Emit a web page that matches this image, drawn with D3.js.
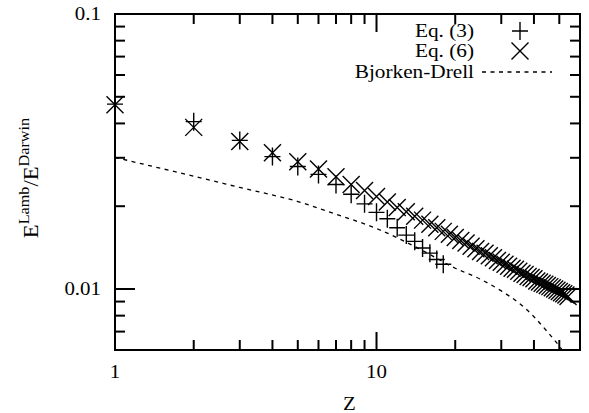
<!DOCTYPE html>
<html>
<head>
<meta charset="utf-8">
<script src="https://cdn.jsdelivr.net/npm/d3@7"></script>
<style>
  body { margin: 0; background: #fff; }
  svg text { font-family: "Liberation Serif", "DejaVu Serif", Times, serif; fill: #000; }
</style>
</head>
<body>
<div id="chart"></div>
<script>
const width = 589;
const height = 413;

// Eq. (3) points
const z3 = [1, 2, 3, 4, 5, 6, 7, 8, 9, 10, 11, 12, 13, 14, 15, 16, 17, 18];
const eq3 = [0.0470, 0.0406, 0.0347, 0.0303, 0.0279, 0.0261, 0.0240, 0.0221, 0.0204, 0.0190,
    0.0180, 0.0167, 0.0157, 0.0149, 0.0141, 0.0135, 0.0128, 0.0123];

// Eq. (6) points
const z6 = [1, 2, 3, 4, 5, 6, 7, 8, 9, 10, 11, 12, 13, 14, 15, 16, 17, 18, 19, 20,
    21, 22, 23, 24, 25, 26, 27, 28, 29, 30, 31, 32, 33, 34, 35, 36, 37, 38, 39, 40,
    41, 42, 43, 44, 45, 46, 47, 48, 49, 50, 51, 52, 53, 54];
const eq6 = [0.0468, 0.0387, 0.0344, 0.0313, 0.0290, 0.0273, 0.0256, 0.0240, 0.0228, 0.0217,
    0.0207, 0.0198, 0.0191, 0.0184, 0.0178, 0.0172, 0.0167, 0.0162, 0.0158, 0.0154,
    0.0150, 0.0147, 0.0143, 0.0140, 0.0137, 0.0135, 0.0132, 0.0130, 0.0127, 0.0125,
    0.0123, 0.0121, 0.0119, 0.0118, 0.0116, 0.0114, 0.0113, 0.0111, 0.0110, 0.0109,
    0.0107, 0.0106, 0.0105, 0.0104, 0.0103, 0.0102, 0.0101, 0.0100, 0.0099, 0.0098,
    0.0097, 0.0096, 0.0095, 0.0094];

// Bjorken-Drell curve
const bdZ = [1, 2, 3, 5, 7, 10, 15, 20, 25, 30, 35, 40, 45, 50, 52];
const bdVal = [0.0301, 0.0257, 0.0234, 0.0208, 0.0187, 0.0166, 0.0138, 0.0119, 0.01085,
    0.00984, 0.0089, 0.00793, 0.00699, 0.0062, 0.0059];

const xMajor = [1, 10];
const xMinor = [2, 3, 4, 5, 6, 7, 8, 9, 20, 30, 40, 50];
const yMajor = [0.01, 0.1];
const yMinor = [0.007, 0.008, 0.009, 0.02, 0.03, 0.04, 0.05, 0.06, 0.07, 0.08, 0.09];

const legendNames = ["Eq. (3)", "Eq. (6)", "Bjorken-Drell"];

const x = d3.scaleLog().domain([1, 60]).range([115, 580]);
const y = d3.scaleLog().domain([0.006, 0.1]).range([350, 14]);

const svg = d3.select("#chart").append("svg")
    .attr("width", width)
    .attr("height", height)
    .attr("font-family", "'Liberation Serif', 'DejaVu Serif', serif");

svg.append("defs").append("clipPath").attr("id", "plot")
    .append("rect")
    .attr("x", x.range()[0]).attr("y", y.range()[1])
    .attr("width", x.range()[1] - x.range()[0])
    .attr("height", y.range()[0] - y.range()[1]);

const plusPath = "M-8,0H8M0,-9V9";
const crossPath = "M-8.5,-8.5L8.5,8.5M-8.5,8.5L8.5,-8.5";

// ticks (inward, on all four sides)
const ticks = svg.append("g").attr("stroke", "#000").attr("stroke-width", 2);
const [x0, x1] = x.range();
const [y1, y0] = [y.range()[0], y.range()[1]];
xMajor.concat(xMinor).forEach(v => {
    const len = xMajor.includes(v) ? 18 : 10;
    ticks.append("line").attr("x1", x(v)).attr("x2", x(v)).attr("y1", y1).attr("y2", y1 - len);
    ticks.append("line").attr("x1", x(v)).attr("x2", x(v)).attr("y1", y0).attr("y2", y0 + len);
});
yMajor.concat(yMinor).forEach(v => {
    const len = yMajor.includes(v) ? 20 : 10;
    ticks.append("line").attr("y1", y(v)).attr("y2", y(v)).attr("x1", x0).attr("x2", x0 + len);
    ticks.append("line").attr("y1", y(v)).attr("y2", y(v)).attr("x1", x1).attr("x2", x1 - len);
});

svg.append("rect")
    .attr("x", x0).attr("y", y0)
    .attr("width", x1 - x0).attr("height", y1 - y0)
    .attr("fill", "none").attr("stroke", "#000").attr("stroke-width", 2);

// text helper: stretched a little along the writing direction like the original
const label = (tx, ty, str, anchor, size, sx) => svg.append("g")
    .attr("transform", `translate(${tx},${ty}) scale(${sx},1)`)
    .append("text")
    .attr("text-anchor", anchor)
    .style("font-size", size + "px")
    .text(str);

xMajor.forEach(v => label(x(v), 378, d3.format("d")(v), "middle", 19, 1.1));
yMajor.forEach(v => label(101, y(v) + 6, String(v), "end", 19, 1.1));

label((x0 + x1) / 2 + 2, 410, "Z", "middle", 19, 1.1);

// y axis label
const yl = svg.append("g")
    .attr("transform", "translate(38,178) rotate(-90) scale(1.08,1)")
    .append("text")
    .attr("text-anchor", "middle")
    .style("font-size", "21px");
yl.append("tspan").text("E");
yl.append("tspan").attr("dy", -9).style("font-size", "15px").text("Lamb");
yl.append("tspan").attr("dy", 9).text("/E");
yl.append("tspan").attr("dy", -9).style("font-size", "15px").text("Darwin");

// Bjorken-Drell dashed curve
const line = d3.line()
    .x((d, i) => x(bdZ[i]))
    .y(d => y(d))
    .curve(d3.curveMonotoneX);

svg.append("path")
    .attr("clip-path", "url(#plot)")
    .attr("d", line(bdVal))
    .attr("fill", "none")
    .attr("stroke", "#000")
    .attr("stroke-width", 1.3)
    .attr("stroke-dasharray", "4,4.5");

// markers
svg.append("g").selectAll("path")
    .data(eq3)
    .join("path")
    .attr("transform", (d, i) => `translate(${x(z3[i])},${y(d)})`)
    .attr("d", plusPath)
    .attr("fill", "none").attr("stroke", "#000").attr("stroke-width", 1.4);

svg.append("g").selectAll("path")
    .data(eq6)
    .join("path")
    .attr("transform", (d, i) => `translate(${x(z6[i])},${y(d)})`)
    .attr("d", crossPath)
    .attr("fill", "none").attr("stroke", "#000").attr("stroke-width", 1.4);

// legend
const legendY = [31, 51, 72];
legendNames.forEach((name, i) => label(474, legendY[i] + 6, name, "end", 19, 1.12));
svg.append("path")
    .attr("transform", `translate(520,${legendY[0]})`)
    .attr("d", plusPath)
    .attr("fill", "none").attr("stroke", "#000").attr("stroke-width", 1.4);
svg.append("path")
    .attr("transform", `translate(520,${legendY[1]})`)
    .attr("d", crossPath)
    .attr("fill", "none").attr("stroke", "#000").attr("stroke-width", 1.4);
svg.append("line")
    .attr("x1", 482).attr("x2", 552)
    .attr("y1", legendY[2]).attr("y2", legendY[2])
    .attr("stroke", "#000").attr("stroke-width", 1.3)
    .attr("stroke-dasharray", "4,4.5");
</script>
</body>
</html>
